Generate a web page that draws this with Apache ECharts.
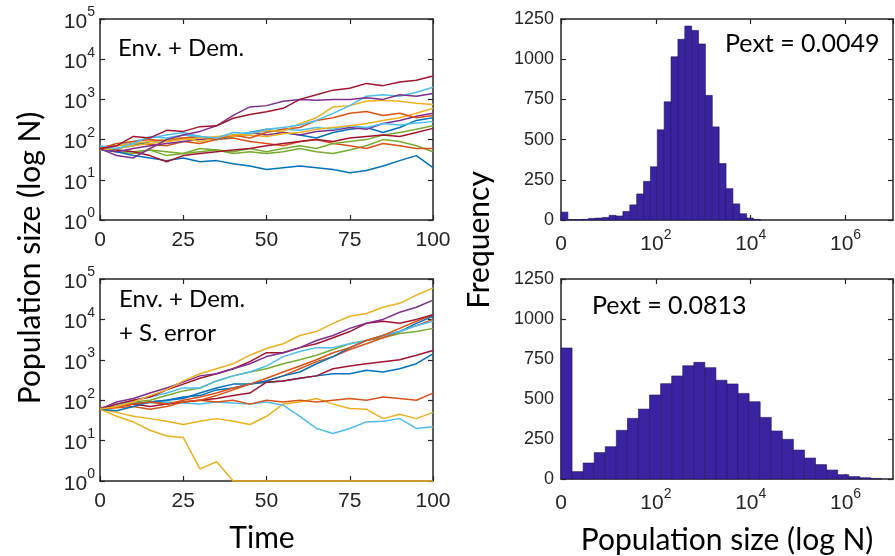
<!DOCTYPE html>
<html>
<head>
<meta charset="utf-8">
<title>Population size simulations</title>
<script src="https://cdn.jsdelivr.net/npm/echarts@6/dist/echarts.min.js"></script>
<style>
  html, body { margin: 0; padding: 0; background: #fff; }
  #chart { width: 895px; height: 556px; }
</style>
</head>
<body>
<div id="chart"></div>
<script>
// time points (every 5 steps)
const times = [0, 5, 10, 15, 20, 25, 30, 35, 40, 45, 50, 55, 60, 65, 70, 75, 80, 85, 90, 95, 100];

// top-left: Env. + Dem.
const envDem = [
  { color: '#77AC30', values: [60, 50, 45, 55, 40, 45, 50, 55, 45, 50, 45, 50, 60, 50, 45, 55, 70, 100, 90, 70, 50] },
  { color: '#0072BD', values: [55, 50, 40, 35, 30, 35, 28, 30, 25, 22, 18, 20, 22, 20, 18, 15, 17, 22, 30, 40, 20] },
  { color: '#D95319', values: [65, 70, 80, 75, 70, 90, 80, 100, 110, 90, 80, 70, 90, 100, 80, 70, 60, 80, 70, 60, 60] },
  { color: '#77AC30', values: [60, 55, 50, 55, 50, 45, 60, 55, 50, 60, 50, 60, 70, 60, 80, 90, 100, 130, 150, 180, 220] },
  { color: '#A2142F', values: [60, 55, 50, 40, 28, 40, 45, 50, 55, 60, 70, 80, 90, 100, 90, 110, 120, 130, 120, 150, 190] },
  { color: '#0072BD', values: [55, 60, 70, 90, 100, 110, 120, 100, 120, 150, 180, 150, 130, 110, 150, 180, 200, 150, 200, 300, 350] },
  { color: '#7E2F8E', values: [60, 50, 60, 70, 80, 90, 100, 110, 120, 150, 130, 150, 130, 160, 170, 200, 180, 250, 300, 380, 450] },
  { color: '#4DBEEE', values: [65, 70, 90, 110, 130, 150, 120, 100, 130, 150, 160, 180, 170, 200, 180, 220, 200, 250, 230, 260, 280] },
  { color: '#EDB120', values: [60, 70, 80, 90, 100, 110, 90, 110, 120, 130, 120, 140, 150, 180, 200, 220, 250, 300, 350, 450, 600] },
  { color: '#D95319', values: [60, 80, 90, 100, 90, 110, 120, 100, 130, 110, 150, 180, 200, 300, 350, 450, 500, 400, 450, 350, 400] },
  { color: '#EDB120', values: [55, 60, 70, 80, 90, 100, 110, 120, 130, 140, 170, 160, 250, 350, 650, 700, 900, 950, 900, 800, 750] },
  { color: '#4DBEEE', values: [70, 60, 80, 120, 110, 130, 120, 110, 150, 140, 180, 200, 230, 300, 450, 700, 1200, 1300, 1200, 1500, 2000] },
  { color: '#7E2F8E', values: [60, 40, 35, 60, 100, 130, 160, 220, 400, 650, 700, 900, 1000, 950, 1000, 1000, 1100, 1000, 1300, 1200, 1400] },
  { color: '#A2142F', values: [60, 70, 120, 110, 170, 160, 210, 220, 340, 420, 490, 600, 1000, 1300, 1700, 1900, 2500, 2200, 2700, 3000, 3800] }
];

// bottom-left: Env. + Dem. + S. error
const envDemErr = [
  { color: '#EDB120', values: [60, 40, 29, 18, 13, 12, 2, 3, 1, 1, 1, 1, 1, 1, 1, 1, 1, 1, 1, 1, 1] },
  { color: '#EDB120', values: [60, 50, 40, 35, 30, 25, 30, 35, 30, 25, 40, 80, 90, 110, 80, 62, 60, 35, 45, 35, 50] },
  { color: '#4DBEEE', values: [60, 80, 90, 85, 90, 85, 80, 90, 85, 80, 90, 75, 40, 20, 15, 20, 29, 30, 35, 20, 22] },
  { color: '#D95319', values: [60, 70, 80, 90, 80, 90, 100, 90, 100, 80, 100, 90, 100, 90, 100, 110, 100, 120, 110, 100, 150] },
  { color: '#0072BD', values: [65, 70, 80, 90, 100, 110, 150, 200, 250, 250, 280, 300, 350, 400, 450, 450, 550, 500, 600, 800, 1400] },
  { color: '#A2142F', values: [60, 70, 80, 70, 80, 90, 100, 110, 130, 150, 280, 300, 350, 400, 600, 700, 800, 900, 1000, 1300, 1700] },
  { color: '#77AC30', values: [60, 70, 90, 100, 130, 170, 200, 300, 400, 500, 600, 800, 1000, 1300, 1800, 2500, 3000, 3500, 4500, 5000, 6000] },
  { color: '#D95319', values: [60, 65, 70, 60, 70, 90, 100, 130, 180, 250, 300, 400, 600, 900, 1200, 1800, 2500, 3500, 5000, 7000, 10000] },
  { color: '#0072BD', values: [60, 55, 70, 90, 100, 120, 130, 180, 200, 250, 300, 400, 500, 800, 1200, 2000, 3000, 4000, 5000, 8000, 12000] },
  { color: '#4DBEEE', values: [60, 80, 100, 120, 150, 200, 200, 300, 400, 500, 700, 1200, 1600, 2000, 2000, 2500, 3000, 4000, 5000, 7000, 9000] },
  { color: '#D95319', values: [65, 70, 80, 90, 80, 100, 120, 150, 200, 250, 350, 500, 700, 1000, 1500, 2000, 3000, 4000, 6000, 9000, 13000] },
  { color: '#A2142F', values: [60, 80, 100, 120, 180, 250, 350, 450, 600, 900, 1500, 1500, 2000, 2500, 3500, 5000, 8000, 9000, 8000, 10000, 13000] },
  { color: '#7E2F8E', values: [60, 90, 110, 150, 200, 280, 400, 450, 600, 800, 1200, 1500, 2000, 3000, 4000, 6000, 8000, 10000, 15000, 20000, 30000] },
  { color: '#EDB120', values: [60, 70, 90, 130, 180, 300, 450, 600, 800, 1300, 1900, 2500, 4000, 5000, 8000, 12000, 14000, 20000, 25000, 40000, 60000] }
];

// histograms of log10(N) at the final time
const topBinWidth = 0.145;
const topCounts = [49, 2, 2, 4, 10, 12, 16, 29, 25, 53, 94, 162, 240, 331, 561, 735, 1015, 1124, 1206, 1179, 1095,
  775, 579, 351, 195, 100, 39, 12, 3];
const bottomBinWidth = 7 / 30;
const bottomCounts = [819, 46, 100, 165, 202, 304, 379, 437, 525, 596, 644, 708, 729, 696, 617, 594, 535, 483,
  385, 300, 248, 181, 131, 90, 56, 27, 15, 8, 2];

const logTicks = [1, 10, 100, 1000, 10000, 100000];
const timeTicks = [0, 25, 50, 75, 100];
const freqTicks = [0, 250, 500, 750, 1000, 1250];
const sizeTicks = [0, 2, 4, 6];

const tickFont = 'Liberation Sans, Arial, sans-serif';
const titleFont = 'Lato, Open Sans, sans-serif';
const axisColor = '#262626';
const barColor = '#3a23a0';

const chart = echarts.init(document.getElementById('chart'));

const supRich = (big, small) => ({
  b: { fontSize: big, fontFamily: tickFont, color: axisColor, verticalAlign: 'bottom', lineHeight: big + 6 },
  s: { fontSize: small, fontFamily: tickFont, color: axisColor, verticalAlign: 'top', lineHeight: big + 6 }
});

const logLabel = v => '{b|10}{s|' + Math.round(Math.log10(v)) + '}';
const sizeLabel = v => v === 0 ? '{b|0}' : '{b|10}{s|' + v + '}';

const grids = [
  { left: 100, top: 19, width: 333, height: 201 },
  { left: 100, top: 279, width: 333, height: 202 },
  { left: 561, top: 19, width: 332, height: 201 },
  { left: 561, top: 279, width: 332, height: 200 }
];

const frameLine = { show: true, onZero: false, lineStyle: { color: axisColor, width: 1.5 } };
const tickIn = { show: true, inside: true, length: 5, lineStyle: { color: axisColor, width: 1.2 } };

const xAxes = [];
const yAxes = [];
grids.forEach((g, i) => {
  const isLine = i < 2;
  const xBase = isLine
    ? { type: 'value', min: timeTicks[0], max: timeTicks[timeTicks.length - 1], interval: 25 }
    : { type: 'value', min: 0, max: 7, interval: 2 };
  xAxes.push(Object.assign({}, xBase, {
    gridIndex: i, position: 'bottom', axisLine: frameLine, axisTick: tickIn, splitLine: { show: false },
    axisLabel: isLine
      ? { margin: 10, fontSize: 21, fontFamily: tickFont, color: axisColor }
      : { margin: 8, formatter: sizeLabel, rich: supRich(21, 14), showMaxLabel: false }
  }));
  xAxes.push(Object.assign({}, xBase, {
    gridIndex: i, position: 'top', axisLine: frameLine, axisTick: tickIn, splitLine: { show: false },
    axisLabel: { show: false }
  }));
  const yBase = isLine
    ? { type: 'log', logBase: 10, min: logTicks[0], max: logTicks[logTicks.length - 1] }
    : { type: 'value', min: freqTicks[0], max: freqTicks[freqTicks.length - 1], interval: 250 };
  yAxes.push(Object.assign({}, yBase, {
    gridIndex: i, position: 'left', axisLine: frameLine, axisTick: tickIn, splitLine: { show: false },
    axisLabel: isLine
      ? { margin: 5, formatter: logLabel, rich: supRich(21, 14) }
      : { margin: 7, fontSize: 18, fontFamily: tickFont, color: axisColor, formatter: v => String(v) }
  }));
  yAxes.push(Object.assign({}, yBase, {
    gridIndex: i, position: 'right', axisLine: frameLine, axisTick: tickIn, splitLine: { show: false },
    axisLabel: { show: false }
  }));
});

const lineSeries = (runs, gi) => runs.map(r => ({
  type: 'line',
  xAxisIndex: gi * 2,
  yAxisIndex: gi * 2,
  data: times.map((t, k) => [t, r.values[k]]),
  showSymbol: false,
  clip: false,
  silent: true,
  z: 5,
  lineStyle: { color: r.color, width: 1.5 },
  itemStyle: { color: r.color }
}));

const histSeries = (counts, width, gi) => ({
  type: 'custom',
  xAxisIndex: gi * 2,
  yAxisIndex: gi * 2,
  silent: true,
  data: counts.map((c, k) => [k * width, (k + 1) * width, c]),
  encode: { x: [0, 1], y: 2 },
  renderItem: (params, api) => {
    const p0 = api.coord([api.value(0), api.value(2)]);
    const p1 = api.coord([api.value(1), 0]);
    return {
      type: 'rect',
      shape: { x: p0[0], y: p0[1], width: p1[0] - p0[0], height: p1[1] - p0[1] },
      style: { fill: barColor, stroke: '#24145e', lineWidth: 0.6 }
    };
  }
});

const txt = (x, y, text, size) => ({
  type: 'text', x: x, y: y,
  style: { text: text, font: size + 'px ' + titleFont, fill: '#000', textAlign: 'left', textVerticalAlign: 'middle' }
});

const option = {
  animation: false,
  backgroundColor: '#fff',
  grid: grids,
  xAxis: xAxes,
  yAxis: yAxes,
  series: [
    ...lineSeries(envDem, 0),
    ...lineSeries(envDemErr, 1),
    histSeries(topCounts, topBinWidth, 2),
    histSeries(bottomCounts, bottomBinWidth, 3)
  ],
  graphic: [
    txt(118, 48, 'Env. + Dem.', 24),
    txt(119, 299, 'Env. + Dem.', 24),
    txt(119, 333, '+ S. error', 24),
    txt(725, 44, 'Pext = 0.0049', 25),
    txt(592, 306, 'Pext = 0.0813', 25),
    { type: 'text', x: 30, y: 258, rotation: Math.PI / 2,
      style: { text: 'Population size (log N)', font: '30px ' + titleFont, fill: '#000', textAlign: 'center', textVerticalAlign: 'middle' } },
    { type: 'text', x: 479, y: 240, rotation: Math.PI / 2,
      style: { text: 'Frequency', font: '30px ' + titleFont, fill: '#000', textAlign: 'center', textVerticalAlign: 'middle' } },
    { type: 'text', x: 262, y: 538,
      style: { text: 'Time', font: '30px ' + titleFont, fill: '#000', textAlign: 'center', textVerticalAlign: 'middle' } },
    { type: 'text', x: 727, y: 540,
      style: { text: 'Population size (log N)', font: '30px ' + titleFont, fill: '#000', textAlign: 'center', textVerticalAlign: 'middle' } }
  ]
};

chart.setOption(option);
</script>
</body>
</html>
